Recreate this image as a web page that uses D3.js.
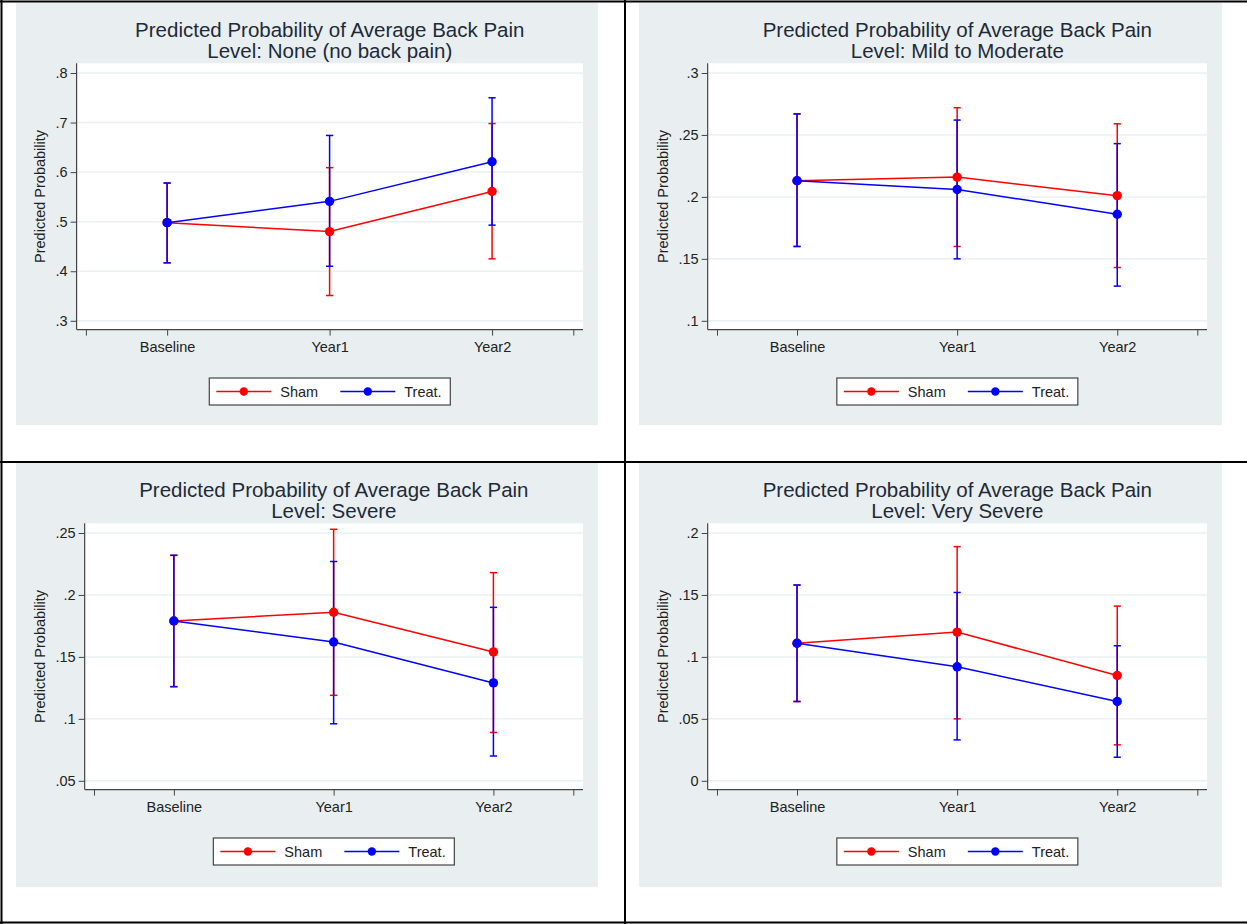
<!DOCTYPE html>
<html>
<head>
<meta charset="utf-8">
<script src="https://d3js.org/d3.v7.min.js"></script>
<style>
  body { margin: 0; background: #fff; }
  svg { display: block; font-family: "Liberation Sans", Arial, sans-serif; }
</style>
</head>
<body>
<svg id="chart" width="1247" height="924"></svg>
<script>
// x axis categories
var timepoints = ["Baseline", "Year1", "Year2"];
// one panel per pain level
var levels = ["None (no back pain)", "Mild to Moderate", "Severe", "Very Severe"];
var groups = ["Sham", "Treat."];

// predicted probabilities (rows = levels, cols = timepoints)
var shamEst  = [[0.498, 0.480, 0.561], [0.213, 0.216, 0.201], [0.179, 0.186, 0.154], [0.111, 0.120, 0.085]];
var shamLo   = [[0.417, 0.351, 0.425], [0.160, 0.160, 0.143], [0.126, 0.119, 0.089], [0.064, 0.050, 0.029]];
var shamHi   = [[0.578, 0.609, 0.698], [0.267, 0.272, 0.259], [0.232, 0.253, 0.218], [0.158, 0.189, 0.141]];
var treatEst = [[0.498, 0.541, 0.621], [0.213, 0.206, 0.186], [0.179, 0.162, 0.129], [0.111, 0.092, 0.064]];
var treatLo  = [[0.417, 0.410, 0.493], [0.160, 0.150, 0.128], [0.126, 0.096, 0.070], [0.064, 0.033, 0.019]];
var treatHi  = [[0.578, 0.674, 0.750], [0.267, 0.262, 0.243], [0.232, 0.227, 0.190], [0.158, 0.152, 0.109]];

// y ticks and their labels per panel
var yTicks = [[0.3, 0.4, 0.5, 0.6, 0.7, 0.8], [0.1, 0.15, 0.2, 0.25, 0.3], [0.05, 0.1, 0.15, 0.2, 0.25], [0, 0.05, 0.1, 0.15, 0.2]];
var yTickLabels = [[".3", ".4", ".5", ".6", ".7", ".8"], [".1", ".15", ".2", ".25", ".3"], [".05", ".1", ".15", ".2", ".25"], ["0", ".05", ".1", ".15", ".2"]];

var colors = ["#ff0000", "#0000ff"];
var svg = d3.select("#chart");

// panel boxes (graph regions inside the table cells)
var boxes = [
  {x0: 16, y0: 3, x1: 598, y1: 425},
  {x0: 639, y0: 3, x1: 1222, y1: 425},
  {x0: 16, y0: 463, x1: 598, y1: 887},
  {x0: 639, y0: 463, x1: 1222, y1: 887}
];

var tickFont = 14.5;

// measure widest tick label so the plot starts after it
var measure = function(str, size) {
  var t = svg.append("text").style("font-size", size + "px").text(str);
  var w = t.node().getComputedTextLength();
  t.remove();
  return w;
}

var drawPanel = function(p) {
  var b = boxes[p];
  var g = svg.append("g");

  g.append("rect")
    .attr("x", b.x0).attr("y", b.y0)
    .attr("width", b.x1 - b.x0).attr("height", b.y1 - b.y0)
    .attr("fill", "#e9eff1");

  var maxW = d3.max(yTickLabels[p], function(s) { return measure(s, tickFont); });
  var left = b.x0 + 38 + maxW + 10.5;
  var right = b.x1 - 15;
  var top = b.y0 + 60.3;
  var axisY = b.y0 + 326.6;
  var cx = (left + right) / 2;

  g.append("rect")
    .attr("x", left).attr("y", top)
    .attr("width", right - left).attr("height", axisY - top)
    .attr("fill", "#ffffff");

  var x = d3.scaleLinear().domain([0.5, 3.5]).range([left + 9.3, right - 9.7]);
  var y = d3.scaleLinear().domain(d3.extent(yTicks[p])).range([axisY - 8.8, top + 9.7]);

  // gridlines
  g.selectAll("line.grid")
    .data(yTicks[p])
    .enter()
    .append("line")
    .attr("x1", left).attr("x2", right)
    .attr("y1", function(d) { return y(d); })
    .attr("y2", function(d) { return y(d); })
    .attr("stroke", "#eaf0f2")
    .attr("stroke-width", 1.5);

  // y axis
  var yAxis = g.append("g")
    .attr("transform", "translate(" + left + ",0)")
    .call(d3.axisLeft(y)
      .tickValues(yTicks[p])
      .tickFormat(function(d, i) { return yTickLabels[p][i]; })
      .tickSize(6).tickSizeOuter(0).tickPadding(3));
  yAxis.select(".domain").remove();
  yAxis.selectAll("line").attr("stroke", "#444");
  yAxis.selectAll("text").style("font-size", tickFont + "px").attr("fill", "#222").attr("font-family", null);

  // x axis
  var xAxis = g.append("g")
    .attr("transform", "translate(0," + axisY + ")")
    .call(d3.axisBottom(x)
      .tickValues([0.5, 1, 2, 3, 3.5])
      .tickFormat(function(d) { return timepoints[d - 1] || ""; })
      .tickSize(6).tickSizeOuter(0).tickPadding(6));
  xAxis.select(".domain").remove();
  xAxis.selectAll("line").attr("stroke", "#444");
  xAxis.selectAll("text").style("font-size", tickFont + "px").attr("fill", "#222").attr("font-family", null);

  // axis lines
  g.append("line").attr("x1", left).attr("x2", left).attr("y1", top).attr("y2", axisY)
    .attr("stroke", "#444").attr("stroke-width", 1.2);
  g.append("line").attr("x1", left).attr("x2", right).attr("y1", axisY).attr("y2", axisY)
    .attr("stroke", "#444").attr("stroke-width", 1.2);

  // y title
  g.append("text")
    .attr("transform", "translate(" + (b.x0 + 29) + "," + ((top + axisY) / 2) + ") rotate(-90)")
    .attr("text-anchor", "middle")
    .style("font-size", "14.5px")
    .attr("fill", "#222")
    .text("Predicted Probability");

  // title
  var title = g.append("text")
    .attr("text-anchor", "middle")
    .style("font-size", "20.5px")
    .attr("fill", "#1e2a38");
  title.append("tspan").attr("x", cx).attr("y", b.y0 + 33.5).text("Predicted Probability of Average Back Pain");
  title.append("tspan").attr("x", cx).attr("y", b.y0 + 54.5).text("Level: " + levels[p]);

  var series = [
    {est: shamEst[p], lo: shamLo[p], hi: shamHi[p], color: colors[0]},
    {est: treatEst[p], lo: treatLo[p], hi: treatHi[p], color: colors[1]}
  ];

  // error bars first
  series.forEach(function(s) {
    var bars = g.append("g").attr("stroke", s.color).attr("stroke-width", 1.5);
    timepoints.forEach(function(t, i) {
      var xx = x(i + 1);
      bars.append("line").attr("x1", xx).attr("x2", xx).attr("y1", y(s.lo[i])).attr("y2", y(s.hi[i]));
      bars.append("line").attr("x1", xx - 3.6).attr("x2", xx + 3.6).attr("y1", y(s.lo[i])).attr("y2", y(s.lo[i]));
      bars.append("line").attr("x1", xx - 3.6).attr("x2", xx + 3.6).attr("y1", y(s.hi[i])).attr("y2", y(s.hi[i]));
    });
  });

  // connected lines with markers
  var line = d3.line()
    .x(function(d, i) { return x(i + 1); })
    .y(function(d) { return y(d); });
  series.forEach(function(s) {
    g.append("path")
      .attr("d", line(s.est))
      .attr("fill", "none")
      .attr("stroke", s.color)
      .attr("stroke-width", 1.5);
    g.selectAll(null)
      .data(s.est)
      .enter()
      .append("circle")
      .attr("cx", function(d, i) { return x(i + 1); })
      .attr("cy", function(d) { return y(d); })
      .attr("r", 4.7)
      .attr("fill", s.color);
  });

  // legend
  var lx = cx - 120.5, ly = axisY + 48.4;
  var leg = g.append("g").attr("transform", "translate(" + lx + "," + ly + ")");
  leg.append("rect").attr("width", 241).attr("height", 27)
    .attr("fill", "#fff").attr("stroke", "#444").attr("stroke-width", 1.2);
  var itemX = [7, 131];
  groups.forEach(function(name, k) {
    var ix = itemX[k];
    leg.append("line").attr("x1", ix).attr("x2", ix + 55).attr("y1", 13.5).attr("y2", 13.5)
      .attr("stroke", colors[k]).attr("stroke-width", 1.5);
    leg.append("circle").attr("cx", ix + 27.5).attr("cy", 13.5).attr("r", 4.2).attr("fill", colors[k]);
    leg.append("text").attr("x", ix + 64).attr("y", 18.6)
      .style("font-size", "14.5px").attr("fill", "#222").text(name);
  });
}

for (var p = 0; p < 4; p++) {
  drawPanel(p);
}

// table borders
var borders = [
  [0, 1.5, 1247, 1.5],
  [1.5, 0, 1.5, 924],
  [625, 0, 625, 924],
  [0, 462, 1247, 462],
  [0, 922.5, 1247, 922.5]
];
svg.selectAll("line.border")
  .data(borders)
  .enter()
  .append("line")
  .attr("x1", function(d) { return d[0]; })
  .attr("y1", function(d) { return d[1]; })
  .attr("x2", function(d) { return d[2]; })
  .attr("y2", function(d) { return d[3]; })
  .attr("stroke", "#000")
  .attr("stroke-width", 2);
</script>
</body>
</html>
